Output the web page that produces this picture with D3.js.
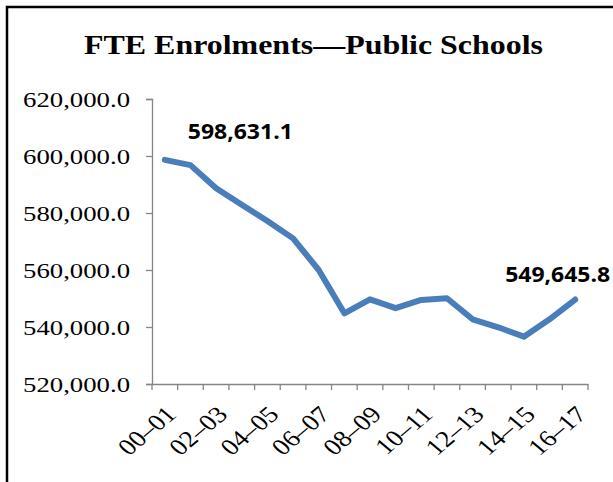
<!DOCTYPE html>
<html><head><meta charset="utf-8">
<script src="https://cdn.jsdelivr.net/npm/d3@7"></script>
<style>html,body{margin:0;padding:0;background:#fff;}svg{display:block;}</style>
</head><body>
<svg id="chart" width="613" height="482"></svg>
<script>
const categories = ["00–01","01–02","02–03","03–04","04–05","05–06","06–07","07–08","08–09","09–10","10–11","11–12","12–13","13–14","14–15","15–16","16–17"];
const enrolments = [598631.1, 596800, 588700, 582900, 577200, 571100, 560000, 544800, 549700, 546600, 549500, 550100, 542700, 539900, 536600, 542700, 549645.8];
const yTicks = [520000, 540000, 560000, 580000, 600000, 620000];
const shownLabels = ["00–01","02–03","04–05","06–07","08–09","10–11","12–13","14–15","16–17"];
const title = "FTE Enrolments—Public Schools";

(function(){
const svg = d3.select("#chart");
const SX = 1.2;
const pLeft = 152, pRight = 588, pTop = 99, pBottom = 384;

svg.append("rect").attr("x",0).attr("y",0).attr("width",613).attr("height",482).attr("fill","#fff");
svg.append("rect").attr("x",7).attr("y",7).attr("width",700).attr("height",600)
  .attr("fill","none").attr("stroke","#000").attr("stroke-width",2.5);

const x = d3.scaleBand().domain(categories).range([pLeft, pRight]).paddingInner(0).paddingOuter(0);
const y = d3.scaleLinear().domain([520000, 620000]).range([pBottom, pTop]);

svg.append("text").attr("x", 313.5).attr("y", 54).attr("text-anchor","middle")
  .attr("font-family","'Liberation Serif','Times New Roman',serif").attr("font-weight","bold")
  .attr("font-size",26.5).attr("textLength",459).attr("lengthAdjust","spacingAndGlyphs")
  .attr("fill","#000").text(title);

const axisColor = "#868686";
const yAxis = svg.append("g").attr("transform",`translate(${pLeft},0)`)
  .call(d3.axisLeft(y).tickValues(yTicks).tickSize(6).tickFormat(d3.format(",.1f")));
yAxis.select(".domain").attr("stroke",axisColor).attr("stroke-width",1.3);
yAxis.selectAll(".tick line").attr("stroke",axisColor).attr("stroke-width",1.3);
yAxis.selectAll(".tick text").each(function(){
  d3.select(this).attr("x",-129).attr("dy",null).attr("text-anchor","start")
   .attr("font-family","'Liberation Serif','Times New Roman',serif").attr("font-size",21).attr("fill","#000")
   .attr("dominant-baseline","central")
   .attr("textLength",107).attr("lengthAdjust","spacingAndGlyphs");
});

const xAxis = svg.append("g").attr("transform",`translate(0,${pBottom})`)
  .call(d3.axisBottom(x).tickValues(shownLabels).tickSize(0).tickFormat(d=>d));
xAxis.select(".domain").attr("stroke",axisColor).attr("stroke-width",1.3);
xAxis.selectAll(".tick text").each(function(){
  d3.select(this).attr("y",null).attr("dy",null).attr("text-anchor","end")
   .attr("font-family","'Liberation Serif','Times New Roman',serif").attr("font-size",23).attr("fill","#000")
   .attr("dominant-baseline","central")
   .attr("transform",`translate(6,26) scale(${SX},1) rotate(-45)`);
});
const bounds = d3.range(categories.length + 1).map(i => pLeft + i * x.bandwidth());
svg.append("g").selectAll("line").data(bounds).join("line")
  .attr("x1",d=>d).attr("x2",d=>d).attr("y1",pBottom).attr("y2",pBottom+6)
  .attr("stroke",axisColor).attr("stroke-width",1.3);

const line = d3.line().x((d,i)=>x(categories[i]) + x.bandwidth()/2).y(d=>y(d));
svg.append("path").datum(enrolments).attr("d",line).attr("fill","none")
  .attr("stroke","#4A7EBB").attr("stroke-width",6).attr("stroke-linejoin","round").attr("stroke-linecap","round");

const fmt = d3.format(",.1f");
const labelIdx = [0, enrolments.length-1];
const labelPos = [{dx:23, dy:-21}, {dx:-70, dy:-17.5}];
labelIdx.forEach((idx,k)=>{
  const cx = x(categories[idx]) + x.bandwidth()/2;
  const cy = y(enrolments[idx]);
  svg.append("text").attr("x", cx + labelPos[k].dx).attr("y", cy + labelPos[k].dy)
    .attr("font-family","'Open Sans','Noto Sans',sans-serif").attr("font-weight","bold")
    .attr("font-size",22).attr("textLength",105).attr("lengthAdjust","spacingAndGlyphs")
    .attr("fill","#000").text(fmt(enrolments[idx]));
});
})();
</script>
</body></html>
